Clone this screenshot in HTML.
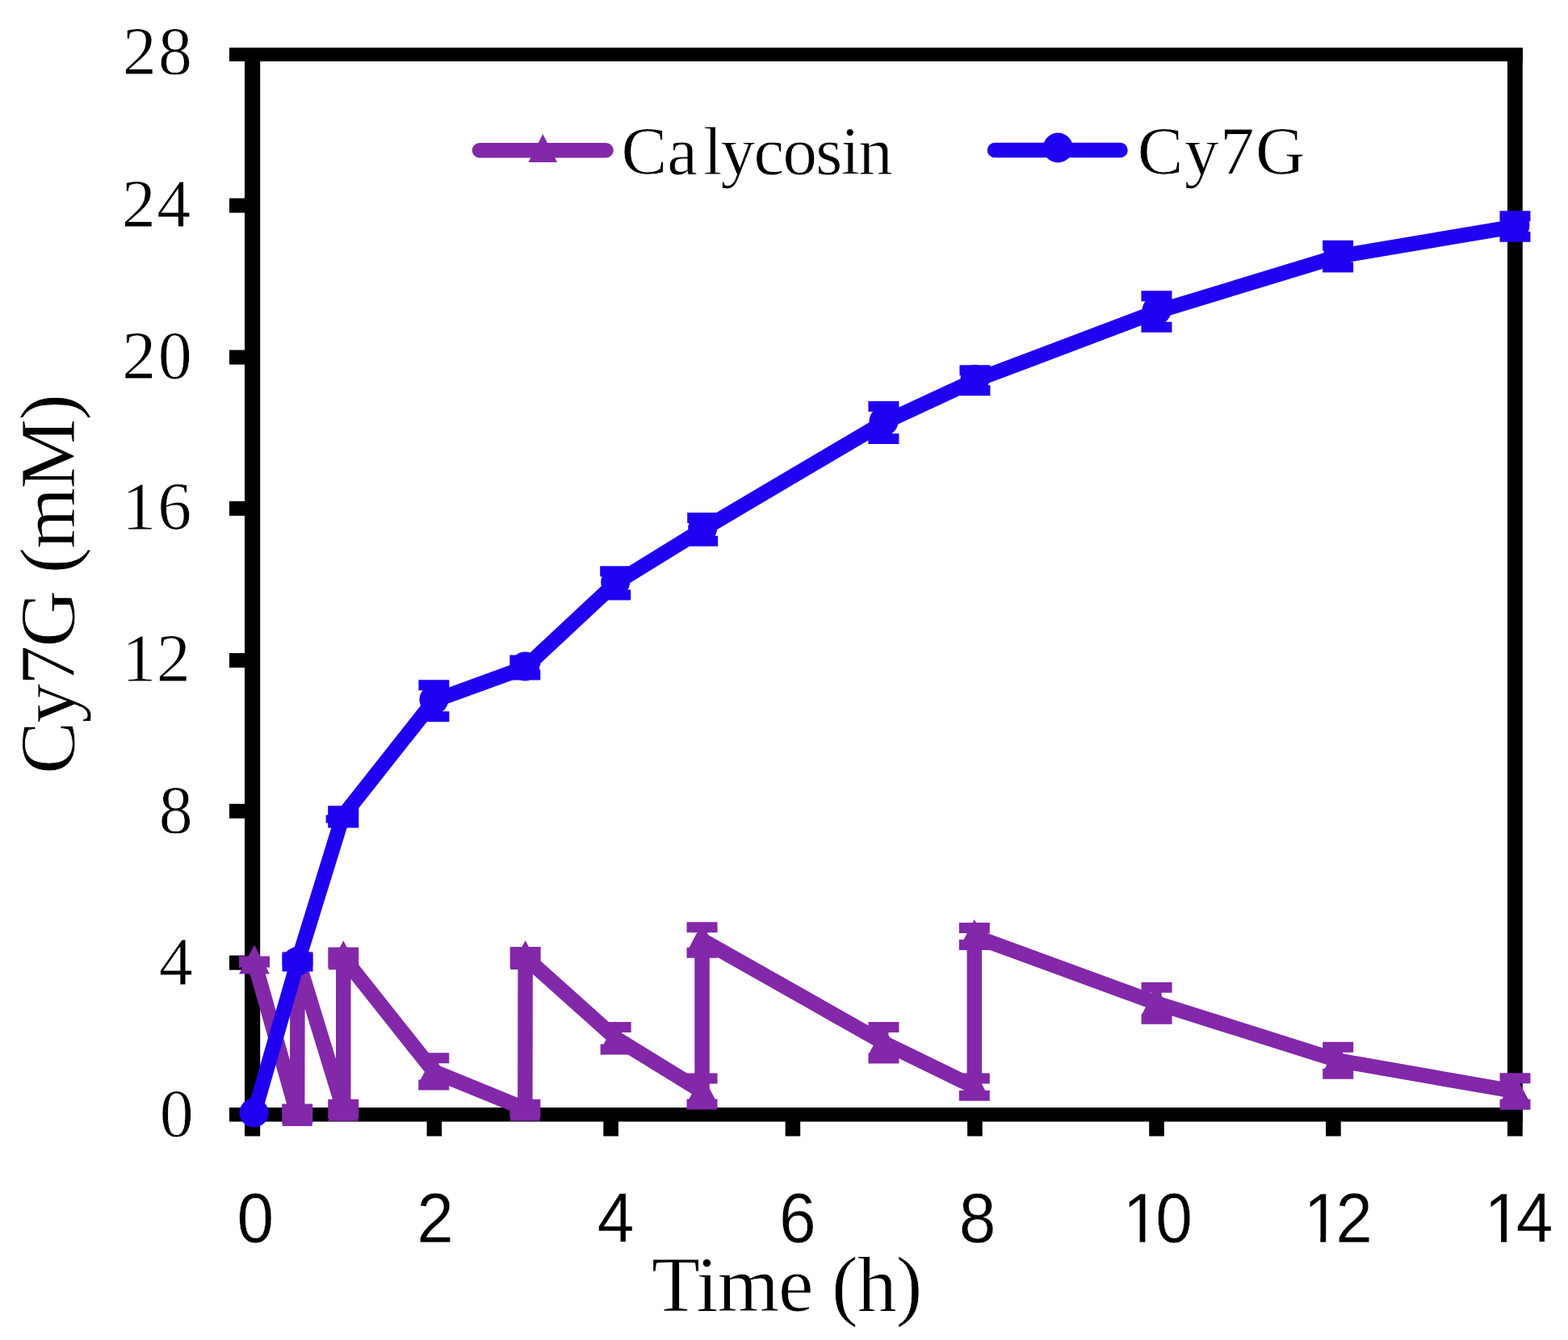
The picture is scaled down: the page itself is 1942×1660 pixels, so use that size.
<!DOCTYPE html>
<html><head><meta charset="utf-8"><title>Cy7G time course</title>
<style>html,body{margin:0;padding:0;background:#fff;}body{width:1942px;height:1660px;overflow:hidden;}svg{display:block;}</style>
</head><body>
<svg width="1942" height="1660" viewBox="0 0 1942 1660"><g fill="#000">
<rect x="284" y="59" width="1602" height="17"/>
<rect x="284" y="1372" width="1602" height="17.5"/>
<rect x="303" y="59" width="19.2" height="1348.5"/>
<rect x="1867" y="59" width="18.8" height="1348.5"/>
<rect x="284" y="245.6" width="20" height="18"/>
<rect x="284" y="433.6" width="20" height="18"/>
<rect x="284" y="620.9" width="20" height="18"/>
<rect x="284" y="809.1" width="20" height="18"/>
<rect x="284" y="995.8" width="20" height="18"/>
<rect x="284" y="1183.6" width="20" height="18"/>
<rect x="528.6" y="1388" width="18.6" height="19.5"/>
<rect x="747.3" y="1388" width="18.6" height="19.5"/>
<rect x="972.6" y="1388" width="18.6" height="19.5"/>
<rect x="1198.1" y="1388" width="18.6" height="19.5"/>
<rect x="1423.2" y="1388" width="18.6" height="19.5"/>
<rect x="1642.1" y="1388" width="18.6" height="19.5"/>
</g>
<polyline points="315.0,1191.5 368.2,1380.0 368.5,1188.0 425.25,1373.8 425.3,1186.2 537.25,1327.35 650.35,1373.6 650.65,1186.0 762.65,1286.25 869.55,1352.0 869.55,1164.45 1094.45,1291.75 1206.8,1346.55 1206.8,1160.0 1432.6,1242.8 1657.15,1313.7 1876.5,1352.0" fill="none" stroke="#8228A9" stroke-width="18.5" stroke-linejoin="round" stroke-linecap="butt"/>
<path fill="#8228A9" d="M296.00,1184.50h38.00v13.00h-38.00ZM296.00,1185.50h38.00v13.00h-38.00ZM309.00,1191.00h12.00v1.00h-12.00ZM315.00,1170.50L334.00,1206.50L296.00,1206.50ZM349.20,1367.50h38.00v13.00h-38.00ZM349.20,1379.50h38.00v13.00h-38.00ZM362.20,1374.00h12.00v12.00h-12.00ZM368.20,1359.00L387.20,1395.00L349.20,1395.00ZM349.50,1179.00h38.00v13.00h-38.00ZM349.50,1184.00h38.00v13.00h-38.00ZM362.50,1185.50h12.00v5.00h-12.00ZM368.50,1167.00L387.50,1203.00L349.50,1203.00ZM406.25,1361.70h38.00v13.00h-38.00ZM406.25,1372.90h38.00v13.00h-38.00ZM419.25,1368.20h12.00v11.20h-12.00ZM425.25,1352.80L444.25,1388.80L406.25,1388.80ZM406.30,1173.40h38.00v13.00h-38.00ZM406.30,1186.00h38.00v13.00h-38.00ZM419.30,1179.90h12.00v12.60h-12.00ZM425.30,1165.20L444.30,1201.20L406.30,1201.20ZM518.25,1304.15h38.00v13.00h-38.00ZM518.25,1337.55h38.00v13.00h-38.00ZM531.25,1310.65h12.00v33.40h-12.00ZM537.25,1306.35L556.25,1342.35L518.25,1342.35ZM631.35,1361.65h38.00v13.00h-38.00ZM631.35,1372.55h38.00v13.00h-38.00ZM644.35,1368.15h12.00v10.90h-12.00ZM650.35,1352.60L669.35,1388.60L631.35,1388.60ZM631.65,1173.05h38.00v13.00h-38.00ZM631.65,1185.95h38.00v13.00h-38.00ZM644.65,1179.55h12.00v12.90h-12.00ZM650.65,1165.00L669.65,1201.00L631.65,1201.00ZM743.65,1266.05h38.00v13.00h-38.00ZM743.65,1293.45h38.00v13.00h-38.00ZM756.65,1272.55h12.00v27.40h-12.00ZM762.65,1265.25L781.65,1301.25L743.65,1301.25ZM850.55,1329.45h38.00v13.00h-38.00ZM850.55,1361.55h38.00v13.00h-38.00ZM863.55,1335.95h12.00v32.10h-12.00ZM869.55,1331.00L888.55,1367.00L850.55,1367.00ZM850.55,1142.25h38.00v13.00h-38.00ZM850.55,1173.65h38.00v13.00h-38.00ZM863.55,1148.75h12.00v31.40h-12.00ZM869.55,1143.45L888.55,1179.45L850.55,1179.45ZM1075.45,1266.05h38.00v13.00h-38.00ZM1075.45,1304.45h38.00v13.00h-38.00ZM1088.45,1272.55h12.00v38.40h-12.00ZM1094.45,1270.75L1113.45,1306.75L1075.45,1306.75ZM1187.80,1329.45h38.00v13.00h-38.00ZM1187.80,1350.65h38.00v13.00h-38.00ZM1200.80,1335.95h12.00v21.20h-12.00ZM1206.80,1325.55L1225.80,1361.55L1187.80,1361.55ZM1187.80,1143.10h38.00v13.00h-38.00ZM1187.80,1163.90h38.00v13.00h-38.00ZM1200.80,1149.60h12.00v20.80h-12.00ZM1206.80,1139.00L1225.80,1175.00L1187.80,1175.00ZM1413.60,1216.80h38.00v13.00h-38.00ZM1413.60,1255.80h38.00v13.00h-38.00ZM1426.60,1223.30h12.00v39.00h-12.00ZM1432.60,1221.80L1451.60,1257.80L1413.60,1257.80ZM1638.15,1290.65h38.00v13.00h-38.00ZM1638.15,1323.75h38.00v13.00h-38.00ZM1651.15,1297.15h12.00v33.10h-12.00ZM1657.15,1292.70L1676.15,1328.70L1638.15,1328.70ZM1857.50,1329.35h38.00v13.00h-38.00ZM1857.50,1361.65h38.00v13.00h-38.00ZM1870.50,1335.85h12.00v32.30h-12.00ZM1876.50,1331.00L1895.50,1367.00L1857.50,1367.00Z"/>
<polyline points="314.5,1380.0 368.5,1192.3 424.3,1011.6 537.4,868.15 650.3,827.0 762.2,722.45 870.2,655.8 1094.4,523.5 1207.45,471.2 1432.45,386.1 1657.1,317.6 1876.45,280.55" fill="none" stroke="#2000F0" stroke-width="18.5" stroke-linejoin="round" stroke-linecap="butt"/>
<path fill="#2000F0" d="M296.50,1378.50A18.0,18.0 0 1 1 332.50,1378.50A18.0,18.0 0 1 1 296.50,1378.50ZM349.50,1181.00h38.00v13.00h-38.00ZM349.50,1190.60h38.00v13.00h-38.00ZM362.50,1187.50h12.00v9.60h-12.00ZM350.50,1190.80A18.0,18.0 0 1 1 386.50,1190.80A18.0,18.0 0 1 1 350.50,1190.80ZM406.20,998.20h38.10v27.20h-38.10ZM403.60,1009.50h4.00v10.00h-4.00ZM518.40,842.15h38.00v13.00h-38.00ZM518.40,881.15h38.00v13.00h-38.00ZM531.40,848.65h12.00v39.00h-12.00ZM519.40,866.65A18.0,18.0 0 1 1 555.40,866.65A18.0,18.0 0 1 1 519.40,866.65ZM631.30,811.50h38.00v13.00h-38.00ZM631.30,829.50h38.00v13.00h-38.00ZM644.30,818.00h12.00v18.00h-12.00ZM632.30,825.50A18.0,18.0 0 1 1 668.30,825.50A18.0,18.0 0 1 1 632.30,825.50ZM743.20,701.35h38.00v13.00h-38.00ZM743.20,730.55h38.00v13.00h-38.00ZM756.20,707.85h12.00v29.20h-12.00ZM744.20,720.95A18.0,18.0 0 1 1 780.20,720.95A18.0,18.0 0 1 1 744.20,720.95ZM851.20,634.95h38.00v13.00h-38.00ZM851.20,663.65h38.00v13.00h-38.00ZM864.20,641.45h12.00v28.70h-12.00ZM852.20,654.30A18.0,18.0 0 1 1 888.20,654.30A18.0,18.0 0 1 1 852.20,654.30ZM1075.40,496.95h38.00v13.00h-38.00ZM1075.40,537.05h38.00v13.00h-38.00ZM1088.40,503.45h12.00v40.10h-12.00ZM1076.40,522.00A18.0,18.0 0 1 1 1112.40,522.00A18.0,18.0 0 1 1 1076.40,522.00ZM1188.45,452.25h38.00v13.00h-38.00ZM1188.45,477.15h38.00v13.00h-38.00ZM1201.45,458.75h12.00v24.90h-12.00ZM1189.45,469.70A18.0,18.0 0 1 1 1225.45,469.70A18.0,18.0 0 1 1 1189.45,469.70ZM1413.45,360.35h38.00v13.00h-38.00ZM1413.45,398.85h38.00v13.00h-38.00ZM1426.45,366.85h12.00v38.50h-12.00ZM1414.45,384.60A18.0,18.0 0 1 1 1450.45,384.60A18.0,18.0 0 1 1 1414.45,384.60ZM1638.10,297.65h38.00v13.00h-38.00ZM1638.10,324.55h38.00v13.00h-38.00ZM1651.10,304.15h12.00v26.90h-12.00ZM1639.10,316.10A18.0,18.0 0 1 1 1675.10,316.10A18.0,18.0 0 1 1 1639.10,316.10ZM1857.45,261.30h38.00v13.00h-38.00ZM1857.45,286.80h38.00v13.00h-38.00ZM1870.45,267.80h12.00v25.50h-12.00ZM1858.45,279.05A18.0,18.0 0 1 1 1894.45,279.05A18.0,18.0 0 1 1 1858.45,279.05Z"/>
<line x1="594" y1="186.3" x2="750.5" y2="186.3" stroke="#8228A9" stroke-width="18.5" stroke-linecap="round"/>
<g fill="#8228A9"><path d="M672.30,166.00L690.10,201.00L654.50,201.00Z"/></g>
<line x1="1232" y1="186" x2="1387.5" y2="186" stroke="#2000F0" stroke-width="18.5" stroke-linecap="round"/>
<circle cx="1310.3" cy="183" r="18.5" fill="#2000F0"/>
<text y="92.2" font-family="&quot;Liberation Serif&quot;, serif" stroke="#fff" stroke-width="0.8" font-size="84"><tspan x="151.7">2</tspan><tspan x="195.9">8</tspan></text>
<text y="280.8" font-family="&quot;Liberation Serif&quot;, serif" stroke="#fff" stroke-width="0.8" font-size="84"><tspan x="150.8">2</tspan><tspan x="194.2">4</tspan></text>
<text y="469.1" font-family="&quot;Liberation Serif&quot;, serif" stroke="#fff" stroke-width="0.8" font-size="84"><tspan x="151.2">2</tspan><tspan x="195.8">0</tspan></text>
<text y="656.1" font-family="&quot;Liberation Serif&quot;, serif" stroke="#fff" stroke-width="0.8" font-size="84"><tspan x="151.3">1</tspan><tspan x="195.2">6</tspan></text>
<text y="844.4" font-family="&quot;Liberation Serif&quot;, serif" stroke="#fff" stroke-width="0.8" font-size="84"><tspan x="151.3">1</tspan><tspan x="193.7">2</tspan></text>
<text y="1031.8" font-family="&quot;Liberation Serif&quot;, serif" stroke="#fff" stroke-width="0.8" font-size="84"><tspan x="196.8">8</tspan></text>
<text y="1219.8" font-family="&quot;Liberation Serif&quot;, serif" stroke="#fff" stroke-width="0.8" font-size="84"><tspan x="196.7">4</tspan></text>
<text y="1407.6" font-family="&quot;Liberation Serif&quot;, serif" stroke="#fff" stroke-width="0.8" font-size="84"><tspan x="197.7">0</tspan></text>
<text transform="scale(0.95,1)" y="1538.8" font-family="&quot;Liberation Sans&quot;, sans-serif" stroke="#fff" stroke-width="0.4" font-size="86.5"><tspan x="308.9">0</tspan></text>
<text transform="scale(0.95,1)" y="1538.8" font-family="&quot;Liberation Sans&quot;, sans-serif" stroke="#fff" stroke-width="0.4" font-size="86.5"><tspan x="543.4">2</tspan></text>
<text transform="scale(0.95,1)" y="1538.8" font-family="&quot;Liberation Sans&quot;, sans-serif" stroke="#fff" stroke-width="0.4" font-size="86.5"><tspan x="778.6">4</tspan></text>
<text transform="scale(0.95,1)" y="1538.8" font-family="&quot;Liberation Sans&quot;, sans-serif" stroke="#fff" stroke-width="0.4" font-size="86.5"><tspan x="1015.7">6</tspan></text>
<text transform="scale(0.95,1)" y="1538.8" font-family="&quot;Liberation Sans&quot;, sans-serif" stroke="#fff" stroke-width="0.4" font-size="86.5"><tspan x="1250.4">8</tspan></text>
<text transform="scale(0.95,1)" y="1538.8" font-family="&quot;Liberation Sans&quot;, sans-serif" stroke="#fff" stroke-width="0.4" font-size="86.5"><tspan x="1463.9">1</tspan><tspan x="1506.5">0</tspan></text>
<path fill="#fff" d="M1395.5,1532.0H1411.6V1540.8H1395.5Z M1418.4,1532.0H1433.9V1540.8H1418.4Z"/>
<text transform="scale(0.95,1)" y="1538.8" font-family="&quot;Liberation Sans&quot;, sans-serif" stroke="#fff" stroke-width="0.4" font-size="86.5"><tspan x="1699.4">1</tspan><tspan x="1741.2">2</tspan></text>
<path fill="#fff" d="M1619.2,1532.0H1635.3V1540.8H1619.2Z M1642.2,1532.0H1657.6V1540.8H1642.2Z"/>
<text transform="scale(0.95,1)" y="1538.8" font-family="&quot;Liberation Sans&quot;, sans-serif" stroke="#fff" stroke-width="0.4" font-size="86.5"><tspan x="1935.0">1</tspan><tspan x="1976.6">4</tspan></text>
<path fill="#fff" d="M1843.0,1532.0H1859.1V1540.8H1843.0Z M1866.0,1532.0H1881.4V1540.8H1866.0Z"/>
<text x="807.1" y="1623.5" font-family="&quot;Liberation Serif&quot;, serif" stroke="#fff" stroke-width="0.8" font-size="98" textLength="335.3" lengthAdjust="spacing">Time (h)</text>
<text transform="translate(92,723.5) rotate(-90)" x="0" y="0" font-family="&quot;Liberation Serif&quot;, serif" stroke="#fff" stroke-width="0.8" font-size="98" text-anchor="middle" textLength="470.9" lengthAdjust="spacing">Cy7G (mM)</text>
<text y="215.6" font-family="&quot;Liberation Serif&quot;, serif" stroke="#fff" stroke-width="0.8" font-size="85"><tspan x="769.5">Ca</tspan><tspan x="871" textLength="234.8" lengthAdjust="spacing">lycosin</tspan></text>
<text x="1408.8" y="215.6" font-family="&quot;Liberation Serif&quot;, serif" stroke="#fff" stroke-width="0.8" font-size="85" textLength="207.6" lengthAdjust="spacing">Cy7G</text></svg>
</body></html>
